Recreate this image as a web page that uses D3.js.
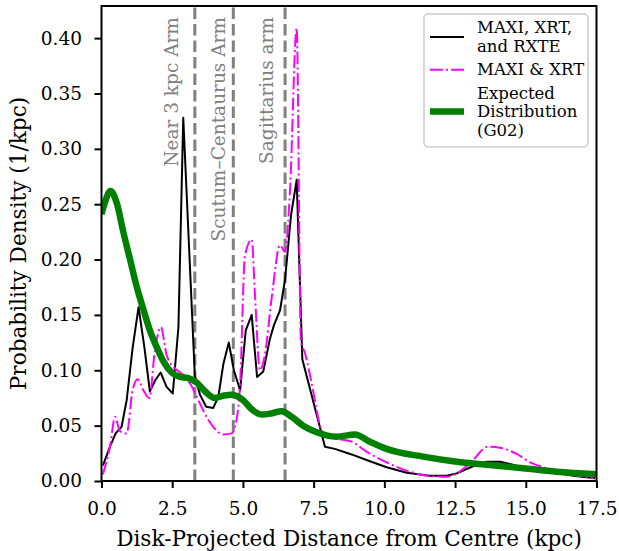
<!DOCTYPE html>
<html>
<head>
<meta charset="utf-8">
<script src="https://cdn.jsdelivr.net/npm/d3@7"></script>
<style>
  html, body { margin: 0; padding: 0; background: #ffffff; }
  svg { display: block; font-family: "DejaVu Serif", serif; }
  svg text { font-family: "DejaVu Serif", serif; }
</style>
</head>
<body>
<div id="chart"></div>
<script>
// Disk-projected distance (kpc) and probability density (1/kpc) for each sample.
const allDist = [0.05, 0.30, 0.50, 0.71, 0.89, 1.10, 1.31, 1.52, 1.71, 1.90, 2.09, 2.30, 2.52, 2.72, 2.89,
  3.30, 3.48, 3.70, 3.95, 4.13, 4.31, 4.50, 4.68, 4.90, 5.10, 5.31, 5.50, 5.72, 5.95, 6.10, 6.31, 6.49,
  6.70, 6.90, 7.10, 7.90, 8.25, 8.84, 9.37, 10.08, 10.79, 11.61, 12.20, 12.56, 13.09, 13.62, 14.09,
  14.68, 15.62, 16.68, 17.45];
const allDensity = [0.014, 0.031, 0.043, 0.049, 0.073, 0.120, 0.157, 0.120, 0.081, 0.091, 0.098, 0.085, 0.079, 0.139, 0.328,
  0.095, 0.078, 0.067, 0.066, 0.076, 0.106, 0.125, 0.100, 0.082, 0.136, 0.150, 0.094, 0.099, 0.128, 0.141, 0.154, 0.182,
  0.240, 0.272, 0.110, 0.031, 0.029, 0.024, 0.019, 0.0124, 0.0075, 0.0048, 0.0048, 0.0069, 0.0129, 0.0174, 0.0174,
  0.0138, 0.0093, 0.0048, 0.0024];

const maxiXrtDist = [0.05, 0.30, 0.48, 0.65, 0.89, 1.10, 1.28, 1.48, 1.69, 1.89, 2.10, 2.30, 2.54, 2.83, 3.13,
  3.48, 3.78, 4.05, 4.31, 4.60, 4.72, 4.90, 5.07, 5.31, 5.43, 5.60, 5.78, 6.02, 6.31, 6.49, 6.66, 6.90,
  7.05, 7.20, 7.40, 7.78, 8.00, 8.43, 8.84, 9.37, 10.08, 10.90, 11.61, 12.20, 12.56, 13.03, 13.67, 14.09,
  14.68, 15.15, 15.74, 16.44, 17.38];
const maxiXrtDensity = [0.006, 0.031, 0.058, 0.045, 0.043, 0.082, 0.092, 0.082, 0.075, 0.118, 0.139, 0.114, 0.103, 0.097, 0.088,
  0.070, 0.055, 0.046, 0.042, 0.043, 0.049, 0.088, 0.203, 0.218, 0.166, 0.100, 0.115, 0.166, 0.213, 0.207, 0.260, 0.409,
  0.127, 0.115, 0.092, 0.046, 0.040, 0.0376, 0.0355, 0.0265, 0.0169, 0.0084, 0.0045, 0.0039, 0.0069, 0.016, 0.031, 0.030,
  0.0244, 0.0169, 0.0115, 0.0069, 0.0024];

const g02Dist = [0.00, 0.10, 0.32, 0.54, 0.77, 1.01, 1.24, 1.48, 1.71, 1.95, 2.19, 2.48, 2.77, 3.07, 3.36,
  3.66, 4.01, 4.30, 4.60, 5.01, 5.30, 5.66, 6.00, 6.37, 6.72, 7.13, 7.61, 8.31, 8.96, 9.49, 10.08,
  11.38, 12.56, 13.73, 14.91, 16.09, 17.50];
const g02Density = [0.241, 0.250, 0.262, 0.251, 0.225, 0.200, 0.176, 0.155, 0.136, 0.121, 0.108, 0.098, 0.094, 0.093, 0.089,
  0.081, 0.075, 0.077, 0.078, 0.073, 0.065, 0.060, 0.061, 0.063, 0.058, 0.050, 0.044, 0.040, 0.042, 0.0355, 0.029,
  0.022, 0.0174, 0.0145, 0.0115, 0.0084, 0.0062];

// Spiral-arm tangent distances and where their captions sit (kpc).
const armNames = ["Near 3 kpc Arm", "Scutum\u2013Centaurus Arm", "Sagittarius arm"];
const armDist = [3.30, 4.66, 6.49];
const armLabelDist = [2.70, 4.37, 6.06];

const seriesNames = [["MAXI, XRT,", "and RXTE"], ["MAXI & XRT"], ["Expected", "Distribution", "(G02)"]];
const xTicks = [0, 2.5, 5, 7.5, 10, 12.5, 15, 17.5];
const yTicks = [0, 0.05, 0.10, 0.15, 0.20, 0.25, 0.30, 0.35, 0.40];

const W = 619, H = 551;
const margin = { left: 101.5, right: 22.5, top: 6, bottom: 70 };
const pw = W - margin.left - margin.right;
const ph = H - margin.top - margin.bottom;

const svg = d3.select("#chart").append("svg").attr("width", W).attr("height", H);

const x = d3.scaleLinear().domain([0, 17.5]).range([margin.left, margin.left + pw]);
const y = d3.scaleLinear().domain([0, 0.429]).range([margin.top + ph, margin.top]);

svg.append("clipPath").attr("id", "plot-clip")
  .append("rect").attr("x", margin.left).attr("y", margin.top).attr("width", pw).attr("height", ph);

const plot = svg.append("g").attr("clip-path", "url(#plot-clip)");

// Arm markers
armDist.forEach(d => {
  plot.append("line")
    .attr("x1", x(d)).attr("x2", x(d))
    .attr("y1", y(0)).attr("y2", margin.top)
    .attr("stroke", "#808080").attr("stroke-width", 3)
    .attr("stroke-dasharray", "11.5,5");
});
armNames.forEach((name, i) => {
  const tx = x(armLabelDist[i]), ty = y(0.419);
  svg.append("text")
    .attr("transform", `translate(${tx},${ty}) rotate(-90)`)
    .attr("text-anchor", "end")
    .attr("font-size", 18.5)
    .attr("fill", "#808080")
    .text(name);
});

const zip = (xs, ys) => xs.map((v, i) => [v, ys[i]]);

const linLine = d3.line().x(d => x(d[0])).y(d => y(d[1]));
const smoothLine = d3.line().x(d => x(d[0])).y(d => y(d[1])).curve(d3.curveMonotoneX);

plot.append("path").datum(zip(allDist, allDensity))
  .attr("d", linLine).attr("fill", "none")
  .attr("stroke", "#000000").attr("stroke-width", 2).attr("stroke-linejoin", "round");

plot.append("path").datum(zip(maxiXrtDist, maxiXrtDensity))
  .attr("d", smoothLine).attr("fill", "none")
  .attr("stroke", "#ff00ff").attr("stroke-width", 2)
  .attr("stroke-dasharray", "12.8,3.2,2,3.2");

plot.append("path").datum(zip(g02Dist, g02Density))
  .attr("d", smoothLine).attr("fill", "none")
  .attr("stroke", "#008000").attr("stroke-width", 6.5).attr("stroke-linejoin", "round");

// Axes
const xAxis = d3.axisBottom(x).tickValues(xTicks).tickFormat(d3.format(".1f")).tickSize(7).tickPadding(13.5);
const yAxis = d3.axisLeft(y).tickValues(yTicks).tickFormat(d3.format(".2f")).tickSize(7).tickPadding(12.5);

const gx = svg.append("g").attr("transform", `translate(0,${margin.top + ph})`).call(xAxis);
const gy = svg.append("g").attr("transform", `translate(${margin.left},0)`).call(yAxis);
[gx, gy].forEach(g => {
  g.attr("font-family", null).attr("font-size", null);
  g.select(".domain").remove();
  g.selectAll(".tick line").attr("stroke", "#000").attr("stroke-width", 2);
  g.selectAll(".tick text")
    .style("font-family", "'DejaVu Serif', serif")
    .style("font-size", "18.5px")
    .attr("fill", "#000");
});

// Frame
svg.append("rect")
  .attr("x", margin.left).attr("y", margin.top).attr("width", pw).attr("height", ph)
  .attr("fill", "none").attr("stroke", "#000").attr("stroke-width", 2);

svg.append("text")
  .attr("x", margin.left + pw / 2).attr("y", 546)
  .attr("text-anchor", "middle").attr("font-size", 21.6)
  .text("Disk-Projected Distance from Centre (kpc)");

svg.append("text")
  .attr("transform", `translate(25.5,${margin.top + ph / 2}) rotate(-90)`)
  .attr("text-anchor", "middle").attr("font-size", 21.6)
  .text("Probability Density (1/kpc)");

// Legend
const legend = svg.append("g");
legend.append("rect")
  .attr("x", 424).attr("y", 14).attr("width", 164).attr("height", 133)
  .attr("rx", 4).attr("fill", "#ffffff").attr("fill-opacity", 0.8)
  .attr("stroke", "#cccccc").attr("stroke-width", 1.5);

const legendStyles = [
  { stroke: "#000000", width: 2, dash: null },
  { stroke: "#ff00ff", width: 2, dash: "12.8,3.2,2,3.2" },
  { stroke: "#008000", width: 6.5, dash: null }
];
let baseline = 33.3;
seriesNames.forEach((lines, i) => {
  const bases = lines.map((_, j) => baseline + j * 18.6);
  const mid = d3.mean(bases) - 5.5;
  const st = legendStyles[i];
  const h = legend.append("line")
    .attr("x1", 430).attr("x2", 464).attr("y1", mid).attr("y2", mid)
    .attr("stroke", st.stroke).attr("stroke-width", st.width);
  if (st.dash) h.attr("stroke-dasharray", st.dash);
  const t = legend.append("text").attr("font-size", 16.5).attr("fill", "#000");
  lines.forEach((ln, j) => {
    t.append("tspan").attr("x", 477).attr("y", bases[j]).text(ln);
  });
  baseline = bases[bases.length - 1] + 23.3;
});
</script>
</body>
</html>
